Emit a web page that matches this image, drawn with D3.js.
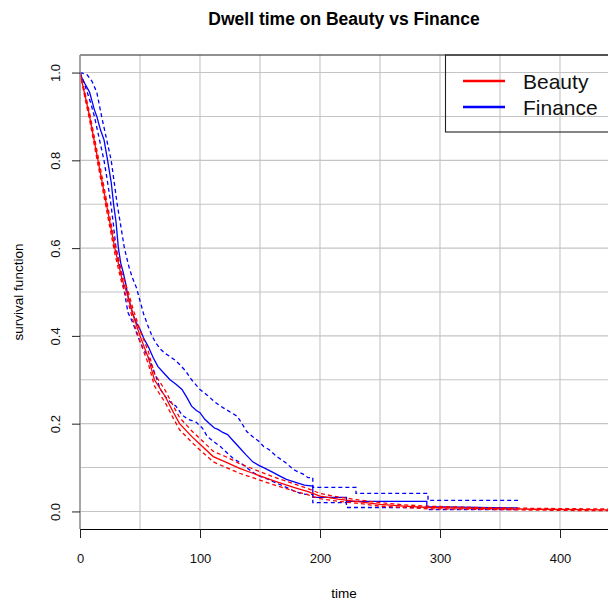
<!DOCTYPE html>
<html>
<head>
<meta charset="utf-8">
<script src="https://cdn.jsdelivr.net/npm/d3@7"></script>
<style>
  html, body { margin: 0; padding: 0; background: #ffffff; }
  svg { display: block; font-family: "Liberation Sans", Arial, Helvetica, sans-serif; }
</style>
</head>
<body>
<svg id="chart" width="608" height="602"></svg>
<script>
// Kaplan–Meier survival estimates with 95% confidence bands

// Beauty (red)
const beautyTime  = [0, 4, 8, 15, 22, 29, 35, 40, 44, 50, 57, 62, 71, 78, 83, 93, 100, 111, 122, 133, 144, 161, 178, 190, 200, 215, 233, 250, 270, 290, 330, 380, 420, 460];
const beautySurv  = [1, 0.95, 0.90, 0.80, 0.70, 0.60, 0.53, 0.49, 0.45, 0.40, 0.35, 0.30, 0.262, 0.225, 0.20, 0.171, 0.153, 0.125, 0.112, 0.098, 0.087, 0.070, 0.055, 0.045, 0.035, 0.028, 0.022, 0.016, 0.012, 0.009, 0.007, 0.005, 0.004, 0.003];
const beautyUpper = [1, 0.956, 0.908, 0.810, 0.711, 0.612, 0.542, 0.502, 0.463, 0.413, 0.364, 0.314, 0.276, 0.239, 0.214, 0.184, 0.166, 0.137, 0.124, 0.109, 0.097, 0.079, 0.063, 0.052, 0.041, 0.033, 0.026, 0.020, 0.015, 0.012, 0.009, 0.007, 0.006, 0.005];
const beautyLower = [1, 0.944, 0.892, 0.790, 0.689, 0.588, 0.518, 0.478, 0.437, 0.387, 0.336, 0.286, 0.248, 0.211, 0.186, 0.158, 0.140, 0.113, 0.100, 0.087, 0.077, 0.061, 0.047, 0.038, 0.029, 0.023, 0.018, 0.012, 0.009, 0.006, 0.005, 0.003, 0.002, 0.002];

// Finance (blue); repeated times mark the visible drops in the tail
const financeTime = [0, 2, 4, 6, 8, 10, 12, 14, 17, 20, 23, 26, 28, 30, 32, 34, 36, 38, 40, 42, 44, 47, 50, 53, 57, 61, 65, 70, 75, 80, 85, 89, 93, 97, 100, 104, 108, 112, 115, 119, 123, 128, 133, 138, 144, 149, 153, 160, 167, 172, 181, 187, 194, 194, 222, 222, 289, 289, 365];
const financeSurv = [1, 0.985, 0.975, 0.965, 0.955, 0.935, 0.915, 0.90, 0.87, 0.847, 0.80, 0.75, 0.70, 0.66, 0.60, 0.565, 0.545, 0.52, 0.49, 0.47, 0.45, 0.43, 0.415, 0.395, 0.375, 0.35, 0.33, 0.315, 0.30, 0.29, 0.278, 0.26, 0.24, 0.23, 0.225, 0.21, 0.20, 0.19, 0.187, 0.18, 0.175, 0.16, 0.145, 0.13, 0.113, 0.105, 0.10, 0.09, 0.08, 0.073, 0.065, 0.06, 0.058, 0.032, 0.032, 0.023, 0.023, 0.011, 0.008];

const financeUpperTime = [0, 6, 10, 14, 18, 22, 26, 29, 31, 34, 37, 41, 44, 47, 50, 53, 57, 60, 63, 67, 71, 75, 79, 83, 88, 93, 100, 106, 112, 117, 122, 126, 131, 135, 139, 144, 149, 153, 158, 164, 172, 178, 186, 190, 194, 194, 230, 230, 290, 290, 365];
const financeUpper     = [1, 0.995, 0.98, 0.955, 0.90, 0.85, 0.80, 0.74, 0.70, 0.65, 0.60, 0.555, 0.53, 0.51, 0.48, 0.45, 0.42, 0.40, 0.385, 0.37, 0.36, 0.353, 0.345, 0.335, 0.32, 0.30, 0.278, 0.265, 0.25, 0.24, 0.232, 0.225, 0.217, 0.20, 0.182, 0.17, 0.16, 0.148, 0.14, 0.125, 0.11, 0.095, 0.085, 0.077, 0.077, 0.055, 0.055, 0.041, 0.041, 0.025, 0.025];

const financeLowerTime = [0, 3, 6, 9, 12, 16, 20, 23, 26, 28, 30, 33, 35, 37, 40, 44, 48, 52, 58, 63, 67, 71, 75, 80, 85, 90, 97, 102, 106, 111, 117, 122, 128, 133, 139, 144, 150, 156, 161, 166, 172, 178, 183, 188, 194, 194, 222, 222, 289, 289, 365];
const financeLower     = [1, 0.98, 0.955, 0.93, 0.90, 0.85, 0.80, 0.75, 0.695, 0.65, 0.60, 0.56, 0.53, 0.50, 0.453, 0.43, 0.40, 0.375, 0.346, 0.31, 0.278, 0.262, 0.25, 0.24, 0.22, 0.21, 0.203, 0.19, 0.171, 0.16, 0.148, 0.135, 0.12, 0.112, 0.10, 0.089, 0.08, 0.074, 0.068, 0.062, 0.055, 0.047, 0.042, 0.039, 0.039, 0.02, 0.02, 0.009, 0.009, 0.004, 0.004];

const xTicks = [0, 100, 200, 300, 400];
const yTicks = [0.0, 0.2, 0.4, 0.6, 0.8, 1.0];
const legendLabels = ["Beauty", "Finance"];
const seriesColors = ["#ff0000", "#0000ff"];

const svg = d3.select("#chart");
const plotLeft = 80, plotRight = 608, plotTop = 55, plotBottom = 529;

const x = d3.scaleLinear().domain([0, 440]).range([plotLeft, plotRight]);
const y = d3.scaleLinear().domain([-0.04, 1.04]).range([plotBottom, plotTop]);

// grid
const grid = svg.append("g").attr("stroke", "#c4c4c4").attr("stroke-width", 1.1);
d3.range(0, 450, 50).forEach(v => {
  grid.append("line").attr("x1", x(v)).attr("x2", x(v)).attr("y1", plotTop).attr("y2", plotBottom);
});
d3.range(0, 11).forEach(i => {
  const v = i / 10;
  grid.append("line").attr("x1", plotLeft).attr("x2", plotRight).attr("y1", y(v)).attr("y2", y(v));
});

svg.append("clipPath").attr("id", "plotClip")
  .append("rect").attr("x", plotLeft).attr("y", plotTop).attr("width", plotRight - plotLeft).attr("height", plotBottom - plotTop);

const plot = svg.append("g").attr("clip-path", "url(#plotClip)");

function pairs(ts, vs) { return ts.map((t, i) => [t, vs[i]]); }

const curve = d3.line().x(d => x(d[0])).y(d => y(d[1]));

function drawSeries(ts, s, lo, loT, hi, hiT, color) {
  plot.append("path").attr("d", curve(pairs(hiT, hi)))
    .attr("fill", "none").attr("stroke", color).attr("stroke-width", 1.3).attr("stroke-dasharray", "4,3");
  plot.append("path").attr("d", curve(pairs(loT, lo)))
    .attr("fill", "none").attr("stroke", color).attr("stroke-width", 1.3).attr("stroke-dasharray", "4,3");
  plot.append("path").attr("d", curve(pairs(ts, s)))
    .attr("fill", "none").attr("stroke", color).attr("stroke-width", 1.3);
}

drawSeries(financeTime, financeSurv, financeLower, financeLowerTime, financeUpper, financeUpperTime, seriesColors[1]);
drawSeries(beautyTime, beautySurv, beautyLower, beautyTime, beautyUpper, beautyTime, seriesColors[0]);

// frame
svg.append("line").attr("x1", plotLeft).attr("x2", plotRight).attr("y1", plotTop).attr("y2", plotTop)
  .attr("stroke", "#222").attr("stroke-width", 1);
svg.append("line").attr("x1", plotLeft).attr("x2", plotLeft).attr("y1", plotTop).attr("y2", plotBottom)
  .attr("stroke", "#8c8c8c").attr("stroke-width", 1.4);

// x axis
const xAxis = svg.append("g").attr("transform", `translate(0,${plotBottom})`)
  .call(d3.axisBottom(x).tickValues(xTicks).tickSize(9).tickPadding(16).tickSizeOuter(0).tickFormat(d3.format("d")));
xAxis.select(".domain").attr("stroke", "#000").attr("stroke-width", 1.1);
xAxis.selectAll(".tick line").attr("stroke", "#222");
xAxis.selectAll("text").attr("font-size", 13).attr("fill", "#111").attr("font-family", "Liberation Sans, Arial, sans-serif");

// y axis
const yAxis = svg.append("g").attr("transform", `translate(${plotLeft},0)`)
  .call(d3.axisLeft(y).tickValues(yTicks).tickSize(8).tickSizeOuter(0).tickFormat(d3.format(".1f")));
yAxis.select(".domain").remove();
yAxis.selectAll(".tick line").attr("stroke", "#222");
yAxis.selectAll("text")
  .attr("font-size", 13).attr("fill", "#111").attr("font-family", "Liberation Sans, Arial, sans-serif")
  .attr("x", 0).attr("dy", 0)
  .attr("text-anchor", "middle")
  .attr("transform", "translate(-20,0) rotate(-90)");

// titles
svg.append("text").attr("x", (plotLeft + plotRight) / 2).attr("y", 25)
  .attr("text-anchor", "middle").attr("font-weight", "bold").attr("font-size", 17.5)
  .text("Dwell time on Beauty vs Finance");
svg.append("text").attr("x", (plotLeft + plotRight) / 2).attr("y", 598)
  .attr("text-anchor", "middle").attr("font-size", 13.5)
  .text("time");
svg.append("text").attr("transform", `translate(23,${(plotTop + plotBottom) / 2}) rotate(-90)`)
  .attr("text-anchor", "middle").attr("font-size", 13.5)
  .text("survival function");

// legend
const legend = svg.append("g");
legend.append("rect").attr("x", 445.5).attr("y", plotTop).attr("width", 200).attr("height", 77)
  .attr("fill", "none").attr("stroke", "#222").attr("stroke-width", 1.1);
legendLabels.forEach((lab, i) => {
  const ly = 81 + i * 26;
  legend.append("line").attr("x1", 463).attr("x2", 505).attr("y1", ly).attr("y2", ly)
    .attr("stroke", seriesColors[i]).attr("stroke-width", 2.6);
  legend.append("text").attr("x", 523).attr("y", ly + 8).attr("font-size", 21).attr("fill", "#111").text(lab);
});
</script>
</body>
</html>
